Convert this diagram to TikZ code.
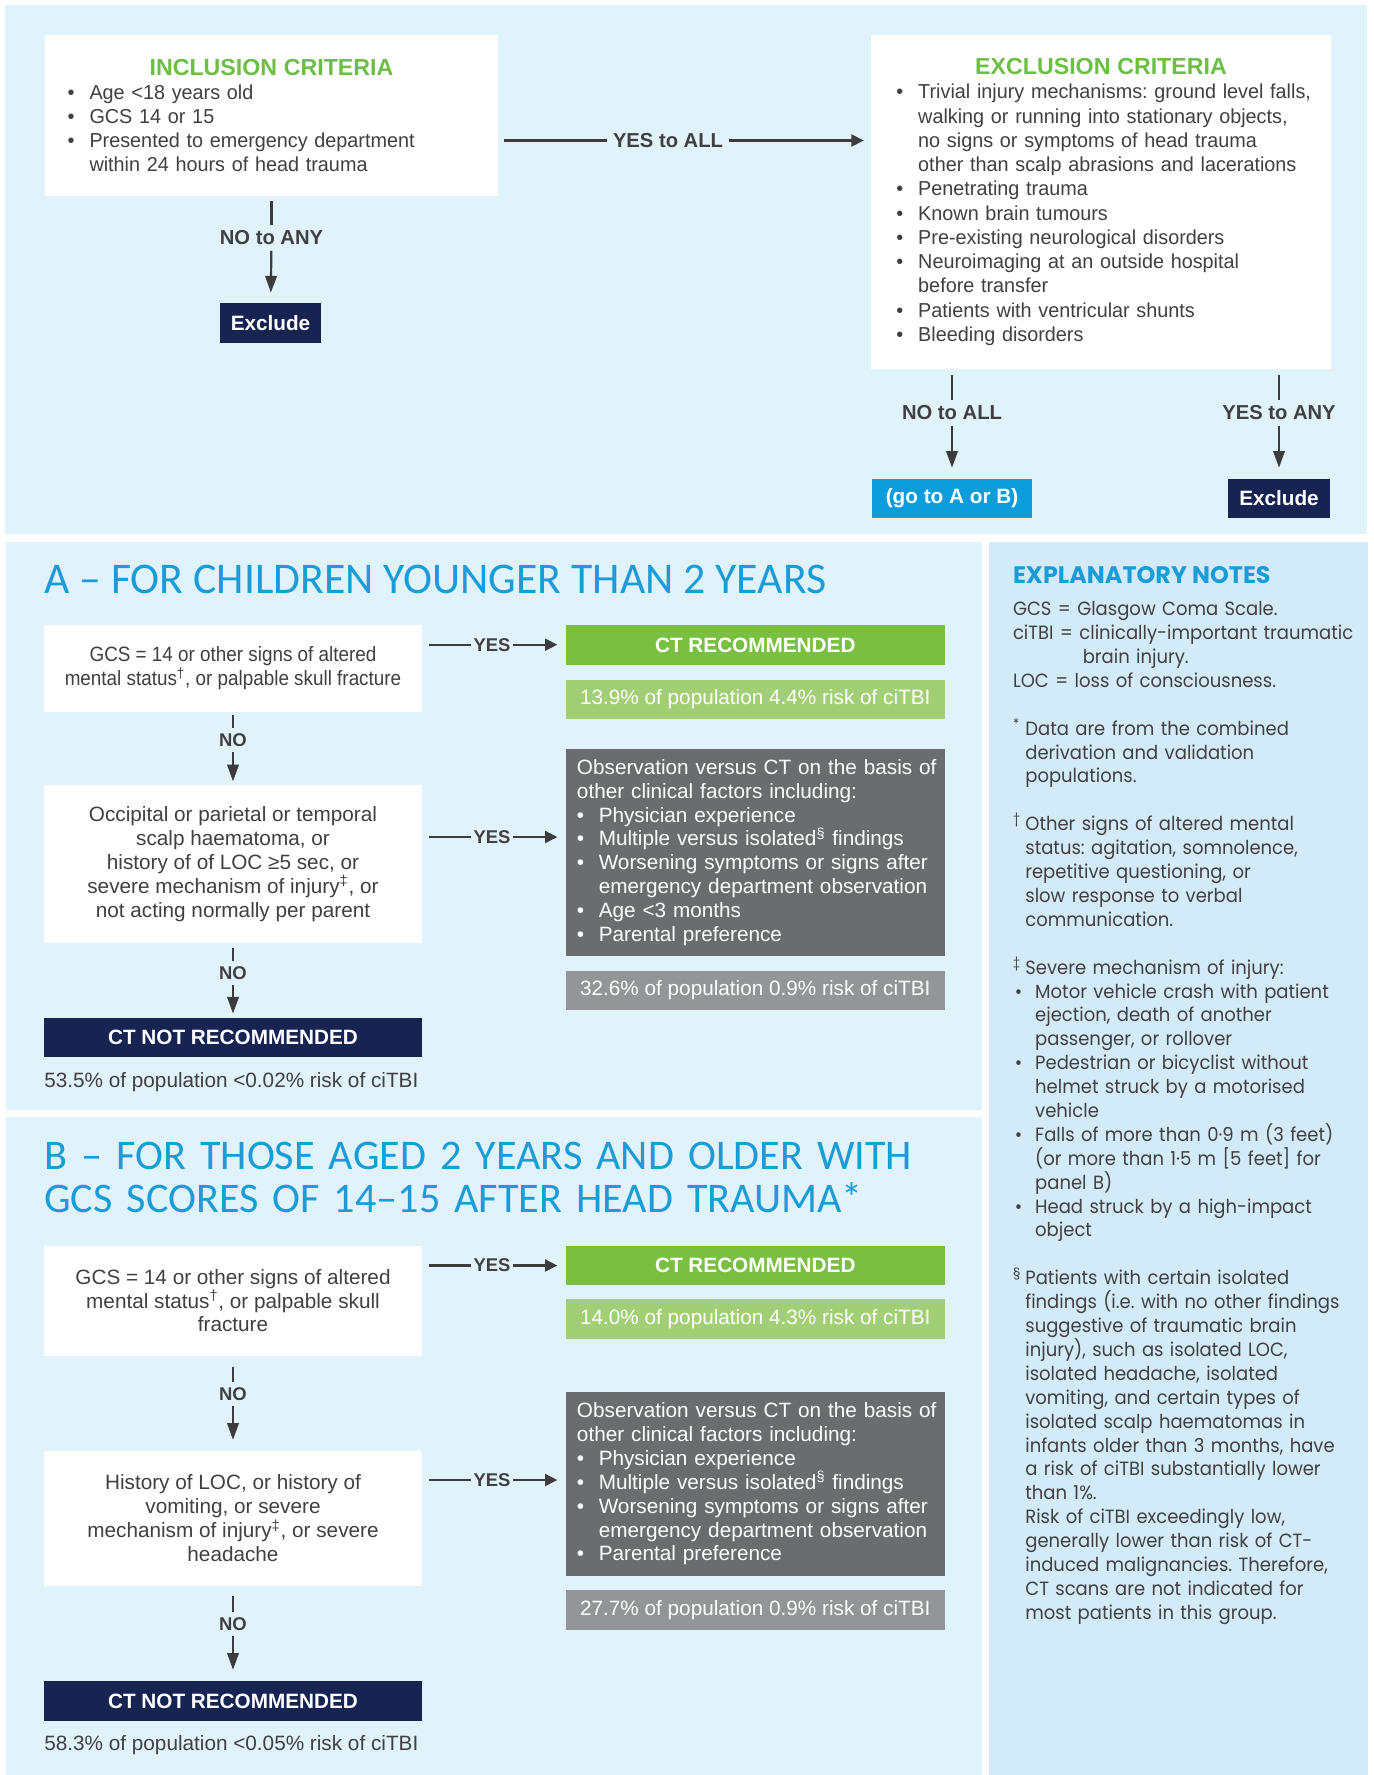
\documentclass[tikz,border=0pt]{standalone}
\usepackage{fontspec}
\setmainfont{Liberation Sans}
\newfontfamily\topfont{Liberation Sans}[FakeStretch=0.98]
\newfontfamily\tightfont{Liberation Sans}[FakeStretch=0.91]
\newfontfamily\notesfont{Poppins}[FakeStretch=0.94]
\newfontfamily\noteheadfont{Poppins}
\newfontfamily\titlefont{Carlito}
\usetikzlibrary{arrows.meta}
\frenchspacing

\definecolor{panelblue}{HTML}{E0F2FA}
\definecolor{notesblue}{HTML}{D3EBF8}
\definecolor{headgreen}{HTML}{6DBE45}
\definecolor{ctgreen}{HTML}{7ABF42}
\definecolor{ltgreen}{HTML}{A2CF75}
\definecolor{darkgrey}{HTML}{6B6C6F}
\definecolor{ltgrey}{HTML}{949598}
\definecolor{navy}{HTML}{172452}
\definecolor{goblue}{HTML}{0B9DDB}
\definecolor{titleblue}{HTML}{1B9BD7}
\definecolor{txtgrey}{HTML}{404041}
\definecolor{arrowgrey}{HTML}{3C3C3C}

\newcommand\bodyfont{\fontsize{11.8}{13.6}\selectfont}
\newcommand\crithead[1]{\makebox[\hsize]{\color{headgreen}\normalfont\bfseries\fontsize{13.2}{13.8}\selectfont #1}}
\newcommand\bitem[1]{\mbox{\makebox[12.4pt][l]{•}#1}}
\newcommand\bcont[1]{\mbox{\hspace*{12.4pt}#1}}
\newcommand\bline[1]{\mbox{#1}}
\newcommand\nmark[1]{\makebox[7pt][l]{\textsuperscript{#1}}}
\newcommand\nind{\hspace*{7pt}}
\newcommand\nbul{\makebox[12.6pt][l]{\hspace{1pt}•}}
\newcommand\nbind{\hspace*{12.6pt}}

\begin{document}
\begin{tikzpicture}[x=0.02cm, y=-0.02cm,
    critbox/.style={fill=white, inner ysep=0pt, align=left, text=txtgrey,
      font=\topfont\fontsize{11.5}{13.8}\selectfont},
    whitebox/.style={fill=white, inner sep=0pt, align=center, text=txtgrey,
      font=\bodyfont, minimum width=7.56cm},
    ctbox/.style={fill=ctgreen, text=white, inner sep=0pt,
      font=\bfseries\bodyfont, minimum width=7.59cm},
    ratebox/.style={fill=ltgreen, text=white, inner sep=0pt,
      font=\bodyfont, minimum width=7.59cm},
    obsbox/.style={fill=darkgrey, text=white, inner xsep=0.228cm, inner ysep=0pt,
      text width=7.134cm, align=left, font=\bodyfont},
    lowbox/.style={fill=ltgrey, text=white, inner sep=0pt,
      font=\bodyfont, minimum width=7.59cm},
    notctbox/.style={fill=navy, text=white, inner sep=0pt,
      font=\bfseries\bodyfont, minimum width=7.56cm},
    endbox/.style={fill=navy, text=white, inner sep=0pt, font=\bfseries\bodyfont},
    gobox/.style={fill=goblue, text=white, inner sep=0pt, font=\bfseries\bodyfont},
    toplbl/.style={text=txtgrey, font=\bfseries\fontsize{11.5}{13.8}\selectfont,
      inner xsep=3pt, inner ysep=3pt},
    lbl/.style={text=txtgrey, font=\bfseries\fontsize{10.5}{12}\selectfont,
      inner xsep=1.5pt, inner ysep=3pt},
    conn/.style={draw=arrowgrey, line width=1.25pt},
    arr/.style={conn, -{Triangle[length=9.5pt,width=6.5pt]}},
    harr/.style={conn, -{Triangle[length=7pt,width=6.8pt]}},
    title/.style={text=titleblue, inner sep=0pt,
      font=\titlefont\fontsize{24.9}{24.9}\selectfont},
    foot/.style={text=txtgrey, inner sep=0pt, font=\bodyfont}]
                \useasboundingbox (0,0) rectangle (1373,1775);%
                \fill[white] (0,0) rectangle (1373,1775);%

                % Drawing panels
                \fill[panelblue] (5,5) rectangle (1367,534);%
                \fill[panelblue] (6,542) rectangle (982,1109.5);%
                \fill[panelblue] (6,1117) rectangle (982,1775);%
                \fill[notesblue] (989,542) rectangle (1368,1775);%

                % Drawing inclusion and exclusion criteria
                \node[critbox, minimum height=3.22cm, text width=8.152cm, inner xsep=0.454cm] (incl) at (271.5,115.5)
                  {\crithead{INCLUSION CRITERIA}\\
                   \bitem{Age <18 years old}\\
                   \bitem{GCS 14 or 15}\\
                   \bitem{Presented to emergency department}\\
                   \bcont{within 24 hours of head trauma}};%
                \node[critbox, minimum height=6.68cm, text width=8.184cm, inner xsep=0.508cm] (excl) at (1101,202)
                  {\crithead{EXCLUSION CRITERIA}\\
                   \bitem{Trivial injury mechanisms: ground level falls,}\\
                   \bcont{walking or running into stationary objects,}\\
                   \bcont{no signs or symptoms of head trauma}\\
                   \bcont{other than scalp abrasions and lacerations}\\
                   \bitem{Penetrating trauma}\\
                   \bitem{Known brain tumours}\\
                   \bitem{Pre-existing neurological disorders}\\
                   \bitem{Neuroimaging at an outside hospital}\\
                   \bcont{before transfer}\\
                   \bitem{Patients with ventricular shunts}\\
                   \bitem{Bleeding disorders}};%
                \node[endbox, minimum width=2.02cm, minimum height=0.8cm] (exclA) at (270.5,323) {Exclude};%
                \node[gobox, minimum width=3.2cm, minimum height=0.78cm] (goab) at (952,498.5) {(go to A or B)};%
                \node[endbox, minimum width=2.04cm, minimum height=0.78cm] (exclB) at (1279,498.5) {Exclude};%

                % Marking top answers
                \node[toplbl] (yesall) at (668,140.5) {YES to ALL};%
                \node[toplbl] (noany) at (271.5,238) {NO to ANY};%
                \node[toplbl] (noall) at (952,413) {NO to ALL};%
                \node[toplbl] (yesany) at (1279,413) {YES to ANY};%

                % Drawing top connectors
                \draw[conn, shorten <=3pt] (incl.east |- yesall) -- (yesall.west);%
                \draw[harr, shorten >=4pt] (yesall.east) -- (excl.west |- yesall);%
                \draw[conn, shorten <=2.8pt] (incl) -- (noany);%
                \draw[arr, shorten >=5.7pt] (noany) -- (exclA);%
                \draw[conn, shorten <=3.4pt] (excl.south -| noall) -- (noall);%
                \draw[arr, shorten >=6.2pt] (noall) -- (goab);%
                \draw[conn, shorten <=3.4pt] (excl.south -| yesany) -- (yesany);%
                \draw[arr, shorten >=6.2pt] (yesany) -- (exclB);%

                % Drawing panel A
                \node[title, anchor=base west] (titleA) at (44,593.6) {A – FOR CHILDREN YOUNGER THAN 2 YEARS};%
                \node[whitebox, minimum height=1.74cm, font=\tightfont\bodyfont] (boxA1) at (233,668.5)
                  {GCS = 14 or other signs of altered\\ mental status\textsuperscript{†}, or palpable skull fracture};%
                \node[ctbox, minimum height=0.786cm] (ctA) at (755.3,645) {CT RECOMMENDED};%
                \node[ratebox, minimum height=0.784cm] (rateA) at (755.3,699.1) {13.9\% of population 4.4\% risk of ciTBI};%
                \node[whitebox, minimum height=3.16cm] (boxA2) at (233,864)
                  {Occipital or parietal or temporal\\ scalp haematoma, or\\ history of of LOC ≥5 sec, or\\
                   severe mechanism of injury\textsuperscript{‡}, or\\ not acting normally per parent};%
                \node[obsbox, minimum height=4.14cm] (obsA) at (755.3,852.5)
                  {\bline{Observation versus CT on the basis of}\\
                   \bline{other clinical factors including:}\\
                   \bitem{Physician experience}\\
                   \bitem{Multiple versus isolated\textsuperscript{§} findings}\\
                   \bitem{Worsening symptoms or signs after}\\
                   \bcont{emergency department observation}\\
                   \bitem{Age <3 months}\\
                   \bitem{Parental preference}};%
                \node[lowbox, minimum height=0.78cm] (lowA) at (755.3,990.5) {32.6\% of population 0.9\% risk of ciTBI};%
                \node[notctbox, minimum height=0.78cm] (notA) at (233,1037.5) {CT NOT RECOMMENDED};%
                \node[foot, anchor=base west] (footA) at (44,1087) {53.5\% of population <0.02\% risk of ciTBI};%

                % Marking panel A answers
                \node[lbl] (yesA1) at (492,644.7) {YES};%
                \node[lbl] (noA1) at (233,739.8) {NO};%
                \node[lbl] (yesA2) at (492,837) {YES};%
                \node[lbl] (noA2) at (233,973) {NO};%

                % Drawing panel A connectors
                \draw[conn, shorten <=4pt] (boxA1.east |- yesA1) -- (yesA1.west);%
                \draw[harr, shorten >=4.5pt] (yesA1.east) -- (ctA.west |- yesA1);%
                \draw[conn, shorten <=1.7pt] (boxA1) -- (noA1);%
                \draw[arr, shorten >=1.9pt] (noA1) -- (boxA2);%
                \draw[conn, shorten <=4pt] (boxA2.east |- yesA2) -- (yesA2.west);%
                \draw[harr, shorten >=4.5pt] (yesA2.east) -- (obsA.west |- yesA2);%
                \draw[conn, shorten <=2.8pt] (boxA2) -- (noA2);%
                \draw[arr, shorten >=2.3pt] (noA2) -- (notA);%

                % Drawing panel B
                \node[title, anchor=base west, text width=19cm, align=left,
                  font=\titlefont\fontsize{24}{24.9}\selectfont] (titleB) at (44,1169)
                  {\bline{B – FOR THOSE AGED 2 YEARS AND OLDER WITH}\\ \bline{GCS SCORES OF 14–15 AFTER HEAD TRAUMA*}};%
                \node[whitebox, minimum height=2.2cm] (boxB1) at (233,1300.6)
                  {GCS = 14 or other signs of altered\\ mental status\textsuperscript{†}, or palpable skull\\ fracture};%
                \node[ctbox, minimum height=0.79cm] (ctB) at (755.3,1265.25) {CT RECOMMENDED};%
                \node[ratebox, minimum height=0.8cm] (rateB) at (755.3,1319) {14.0\% of population 4.3\% risk of ciTBI};%
                \node[whitebox, minimum height=2.69cm] (boxB2) at (233,1518.3)
                  {History of LOC, or history of\\ vomiting, or severe\\ mechanism of injury\textsuperscript{‡}, or severe\\ headache};%
                \node[obsbox, minimum height=3.67cm] (obsB) at (755.3,1483.85)
                  {\bline{Observation versus CT on the basis of}\\
                   \bline{other clinical factors including:}\\
                   \bitem{Physician experience}\\
                   \bitem{Multiple versus isolated\textsuperscript{§} findings}\\
                   \bitem{Worsening symptoms or signs after}\\
                   \bcont{emergency department observation}\\
                   \bitem{Parental preference}};%
                \node[lowbox, minimum height=0.79cm] (lowB) at (755.3,1609.75) {27.7\% of population 0.9\% risk of ciTBI};%
                \node[notctbox, minimum height=0.8cm] (notB) at (233,1701) {CT NOT RECOMMENDED};%
                \node[foot, anchor=base west] (footB) at (44,1750) {58.3\% of population <0.05\% risk of ciTBI};%

                % Marking panel B answers
                \node[lbl] (yesB1) at (492,1265.5) {YES};%
                \node[lbl] (noB1) at (233,1394) {NO};%
                \node[lbl] (yesB2) at (492,1480) {YES};%
                \node[lbl] (noB2) at (233,1624) {NO};%

                % Drawing panel B connectors
                \draw[conn, shorten <=4pt] (boxB1.east |- yesB1) -- (yesB1.west);%
                \draw[harr, shorten >=4.5pt] (yesB1.east) -- (ctB.west |- yesB1);%
                \draw[conn, shorten <=6.2pt] (boxB1) -- (noB1);%
                \draw[arr, shorten >=6.2pt] (noB1) -- (boxB2);%
                \draw[conn, shorten <=4pt] (boxB2.east |- yesB2) -- (yesB2.west);%
                \draw[harr, shorten >=4.5pt] (yesB2.east) -- (obsB.west |- yesB2);%
                \draw[conn, shorten <=5.7pt] (boxB2) -- (noB2);%
                \draw[arr, shorten >=6.2pt] (noB2) -- (notB);%

                % Drawing explanatory notes
                \node[anchor=base west, inner sep=0pt, text=titleblue,
                  font=\noteheadfont\bfseries\fontsize{13.6}{14}\selectfont] (notehead) at (1012.7,583.6) {EXPLANATORY NOTES};%
                \node[anchor=base west, inner sep=0pt, text=txtgrey, text width=9cm, align=left,
                  font=\notesfont\fontsize{10.9}{13.6}\selectfont] (notetext) at (1012.7,615.7)
                  {GCS = Glasgow Coma Scale.\\
                   ciTBI = clinically-important traumatic\\
                   \hspace*{39.7pt}brain injury.\\
                   LOC = loss of consciousness.\\[13.6pt]
                   \nmark{*}Data are from the combined\\
                   \nind derivation and validation\\
                   \nind populations.\\[13.6pt]
                   \nmark{†}Other signs of altered mental\\
                   \nind status: agitation, somnolence,\\
                   \nind repetitive questioning, or\\
                   \nind slow response to verbal\\
                   \nind communication.\\[13.6pt]
                   \nmark{‡}Severe mechanism of injury:\\
                   \nbul Motor vehicle crash with patient\\
                   \nbind ejection, death of another\\
                   \nbind passenger, or rollover\\
                   \nbul Pedestrian or bicyclist without\\
                   \nbind helmet struck by a motorised\\
                   \nbind vehicle\\
                   \nbul Falls of more than 0·9 m (3 feet)\\
                   \nbind (or more than 1·5 m [5 feet] for\\
                   \nbind panel B)\\
                   \nbul Head struck by a high-impact\\
                   \nbind object\\[13.6pt]
                   \nmark{§}Patients with certain isolated\\
                   \nind findings (i.e. with no other findings\\
                   \nind suggestive of traumatic brain\\
                   \nind injury), such as isolated LOC,\\
                   \nind isolated headache, isolated\\
                   \nind vomiting, and certain types of\\
                   \nind isolated scalp haematomas in\\
                   \nind infants older than 3 months, have\\
                   \nind a risk of ciTBI substantially lower\\
                   \nind than 1\%.\\
                   \nind Risk of ciTBI exceedingly low,\\
                   \nind generally lower than risk of CT-\\
                   \nind induced malignancies. Therefore,\\
                   \nind CT scans are not indicated for\\
                   \nind most patients in this group.};%
\end{tikzpicture}
\end{document}
